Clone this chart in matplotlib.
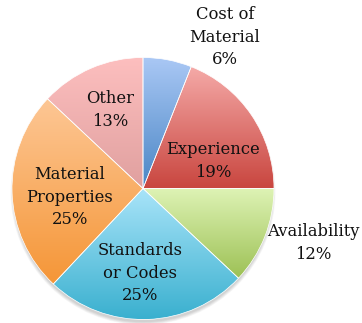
import numpy as np
import matplotlib
matplotlib.use("Agg")
import matplotlib.pyplot as plt
from matplotlib.colors import LinearSegmentedColormap
from matplotlib.patches import Circle

# Survey shares (percent), clockwise from 12 o'clock
labels = ["Cost of\nMaterial", "Experience", "Availability",
          "Standards\nor Codes", "Material\nProperties", "Other"]
shares = [6, 19, 12, 25, 25, 13]

# Top / bottom colours of each wedge's vertical gradient
top_colors = ["#aac8f5", "#f5aaa8", "#def3b5", "#a9e4f9", "#fdc795", "#fdbfbf"]
bottom_colors = ["#4a86c5", "#c9463f", "#9dc155", "#3ab0cf", "#f59637", "#e0a09f"]

W, H = 362, 323
fig = plt.figure(figsize=(W / 100, H / 100), dpi=100)
ax = fig.add_axes([0, 0, 1, 1])

cx, cy, r = 143, H - 188.5, 131

# soft drop shadow beneath the pie
for k in range(6):
    ax.add_patch(Circle((cx, cy - 4), r + 1.5 - k * 0.6, facecolor="black",
                        edgecolor="none", alpha=0.03, zorder=0))

wedges, _ = ax.pie(shares, center=(cx, cy), radius=r, startangle=90,
                   counterclock=False, frame=True,
                   wedgeprops=dict(facecolor="none", edgecolor="white",
                                   linewidth=0.5, zorder=3))
ax.set_xlim(0, W)
ax.set_ylim(0, H)
ax.set_aspect("equal")
ax.axis("off")

grad = np.linspace(1, 0, 256).reshape(-1, 1)
renderer = fig.canvas.get_renderer()
inv = ax.transData.inverted()
for w, c0, c1 in zip(wedges, top_colors, bottom_colors):
    bb = w.get_window_extent(renderer)
    (x0, y0), (x1, y1) = inv.transform([[bb.x0, bb.y0], [bb.x1, bb.y1]])
    cmap = LinearSegmentedColormap.from_list("g", [c1, c0])
    im = ax.imshow(grad, cmap=cmap, extent=[x0, x1, y0, y1], origin="upper",
                   aspect="auto", zorder=2, interpolation="bilinear")
    im.set_clip_path(w)

ax.set_xlim(0, W)
ax.set_ylim(0, H)

font = dict(family="DejaVu Serif", fontsize=11.8, color="#111111",
            ha="center", va="center", linespacing=1.42, zorder=5)
# label block centres (x, y from top)
label_pos = [(225, 37), (213, 161), (313, 243), (140, 273), (70, 197), (110, 110)]
for lab, val, (x, y) in zip(labels, shares, label_pos):
    ax.text(x, H - y, f"{lab}\n{val}%", **font)

fig.savefig("out.png", dpi=100)
